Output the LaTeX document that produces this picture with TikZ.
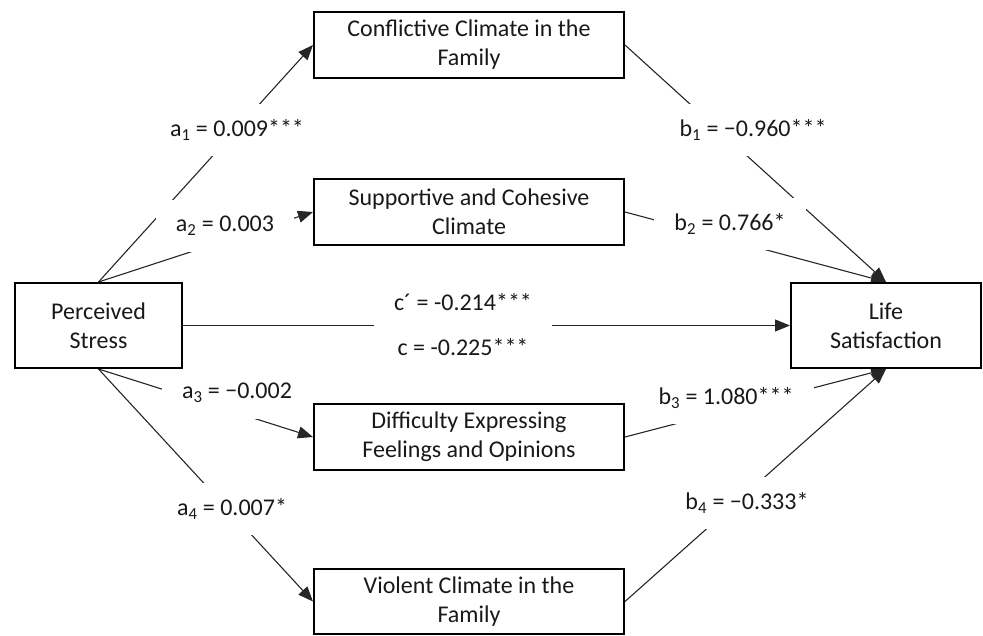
\documentclass[tikz,border=0pt]{standalone}
\usepackage{fontspec}
\setmainfont{Carlito}
\usetikzlibrary{arrows.meta}
\pgfdeclarelayer{bg}
\pgfsetlayers{bg,main}
\begin{document}
\begin{tikzpicture}[x=1pt,y=-1pt,
  box/.style={draw=black, line width=2pt, fill=white, align=center, inner sep=0pt,
    font=\fontsize{24}{29}\selectfont, text=black!90},
  med/.style={box, minimum width=310pt, minimum height=66pt},
  conn/.style={draw=black!85, line width=1.1pt, -{Triangle[length=15pt,width=12pt]}},
  lab/.style={fill=white, inner xsep=20pt, inner ysep=0pt, minimum height=52pt,
    align=center, font=\fontsize{24}{29}\selectfont, text=black!90},
]
\useasboundingbox (0,0) rectangle (983,635);

% boxes
\node[box, minimum width=167pt, minimum height=85pt] (PS) at (98.5,325.5) {Perceived\\Stress};
\node[box, minimum width=190pt, minimum height=85pt] (LS) at (886,325.5) {Life\\Satisfaction};
\node[med] (CC) at (469,45) {Conflictive Climate in the\\Family};
\node[med] (SC) at (469,212) {Supportive and Cohesive\\Climate};
\node[med] (DE) at (469,437) {Difficulty Expressing\\Feelings and Opinions};
\node[med, minimum height=65pt] (VC) at (469,601.5) {Violent Climate in the\\Family};

\begin{pgfonlayer}{bg}
  % connectors
  \draw[conn] (PS.north) -- (CC.west);
  \draw[conn] (PS.north) -- (SC.west);
  \draw[conn] (PS.south) -- (DE.west);
  \draw[conn] (PS.south) -- (VC.west);
  \draw[conn] (PS.east) -- (LS.west);
  \draw[conn] (CC.east) -- (LS.north);
  \draw[conn] (SC.east) -- (LS.north);
  \draw[conn] (DE.east) -- (LS.south);
  \draw[conn] (VC.east) -- (LS.south);
  % labels
  \node[lab] (la1) at (237,130) {a\textsubscript{1} = 0.009***};
  \node[lab] (la2) at (225,226) {a\textsubscript{2} = 0.003};
  \node[lab] (la3) at (237,393) {a\textsubscript{3} = −0.002};
  \node[lab] (la4) at (232,509) {a\textsubscript{4} = 0.007*};
  \node[lab] (lb1) at (753,130) {b\textsubscript{1} = −0.960***};
  \node[lab] (lb2) at (730,224) {b\textsubscript{2} = 0.766*};
  \node[lab] (lb3) at (726,398) {b\textsubscript{3} = 1.080***};
  \node[lab] (lb4) at (747,503) {b\textsubscript{4} = −0.333*};
  \node[lab, minimum height=0pt, inner ysep=2pt] (lc) at (463,325) {c´ = -0.214***\\[16pt]c = -0.225***};
\end{pgfonlayer}
\end{tikzpicture}
\end{document}
